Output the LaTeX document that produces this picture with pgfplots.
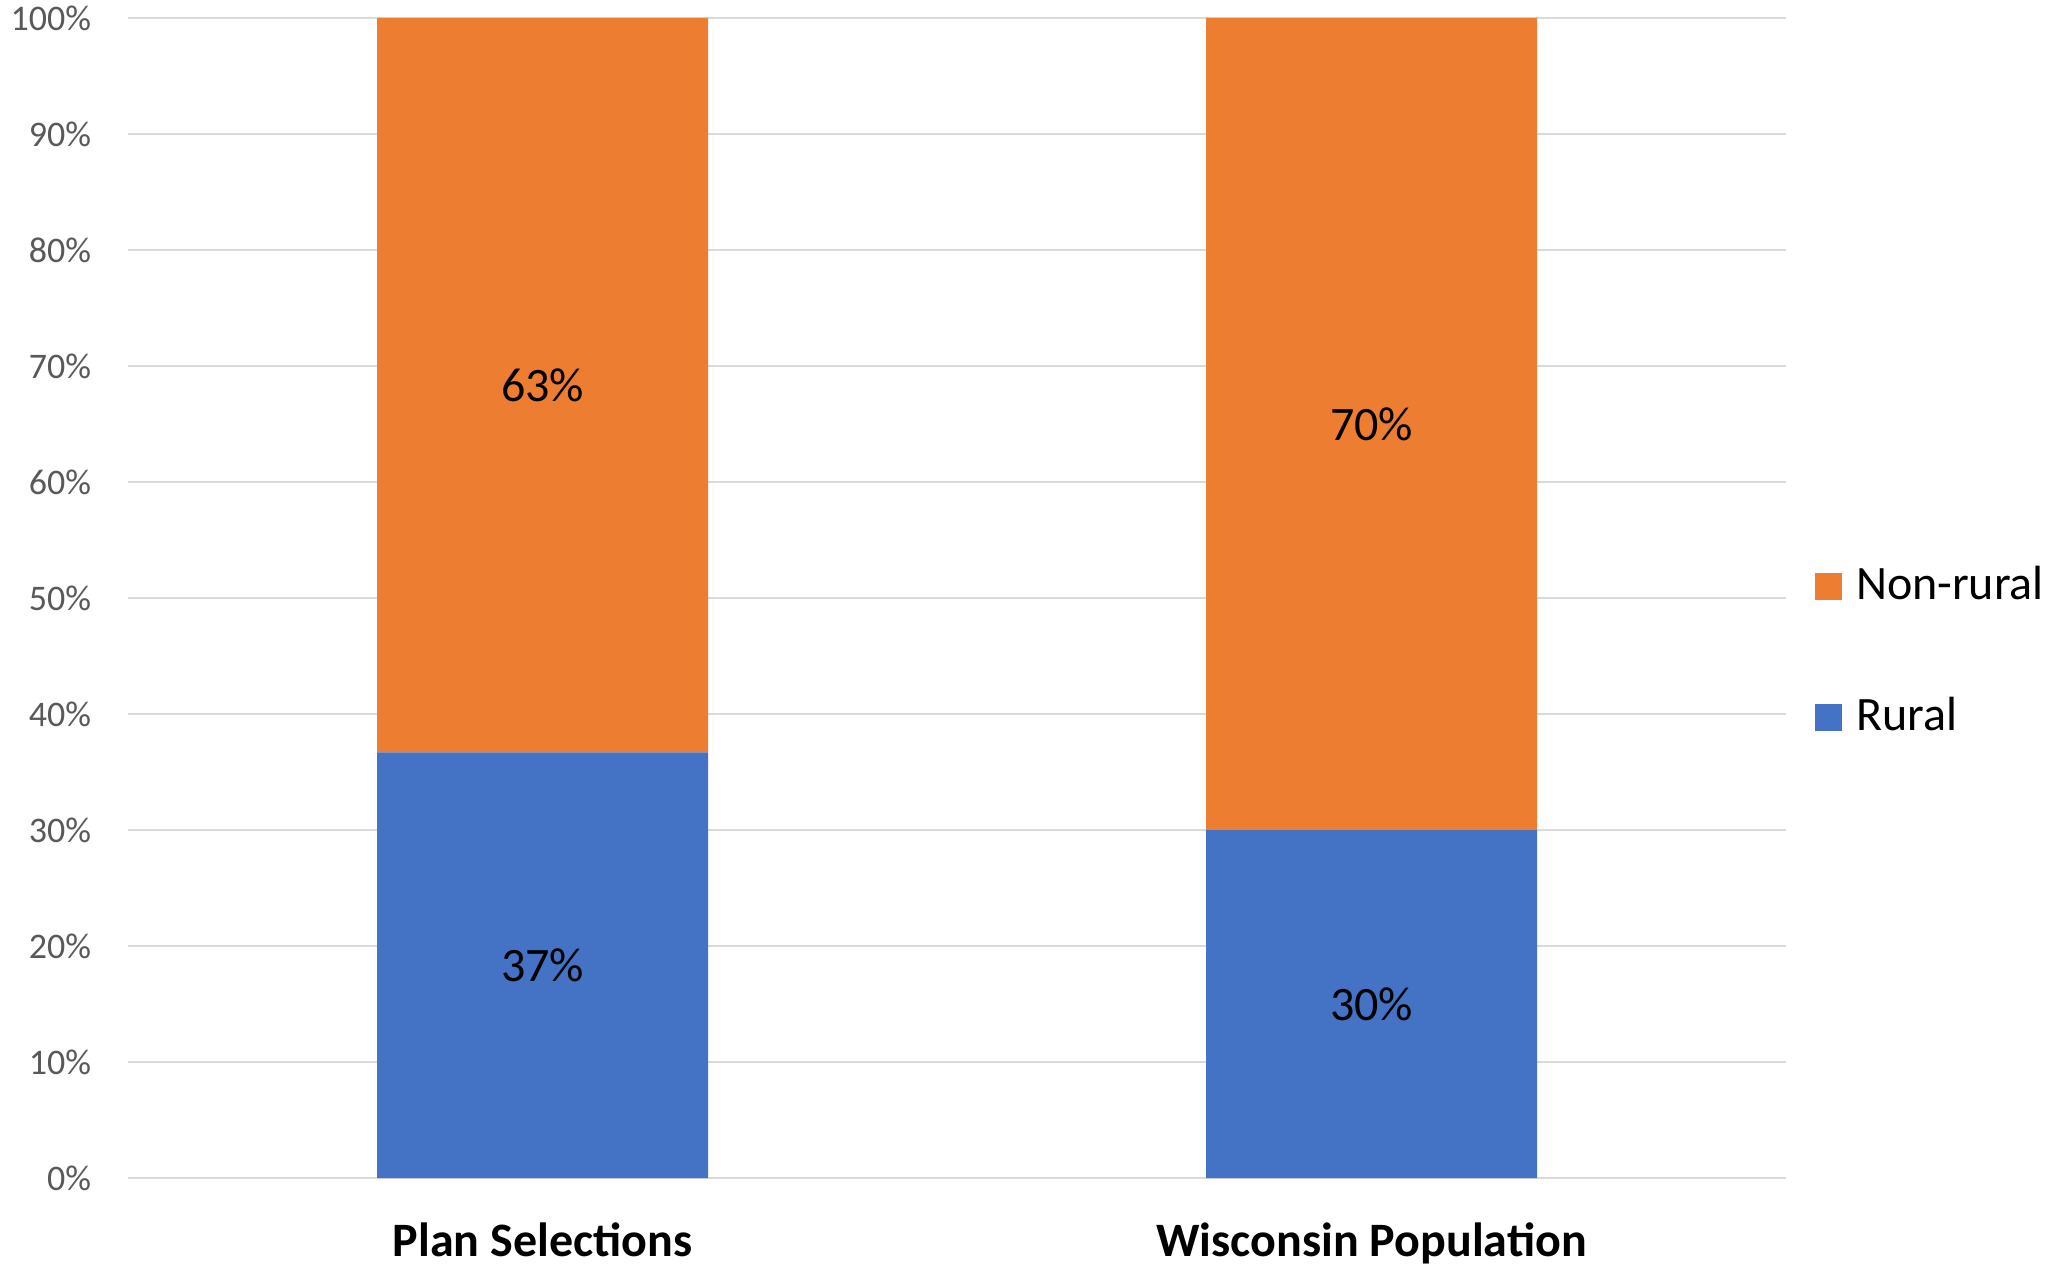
\documentclass[border=0pt]{standalone}
\usepackage{pgfplots}
\pgfplotsset{compat=1.18}
\usepackage{fontspec}
\setmainfont{Carlito}
\definecolor{cOrange}{HTML}{ED7D31}
\definecolor{cBlue}{HTML}{4472C4}
\definecolor{cGrid}{HTML}{D9D9D9}
\definecolor{cTick}{HTML}{595959}
\begin{document}
\begin{tikzpicture}
\useasboundingbox (0,0) rectangle (514.75pt,316.25pt);
\begin{axis}[
  at={(32pt,21.75pt)}, anchor=south west,
  scale only axis, width=414.5pt, height=290pt,
  xmin=-0.5, xmax=1.5, ymin=0, ymax=100,
  ybar stacked, bar width=82.75pt,
  axis line style={draw=none},
  major tick length=0pt, tick style={draw=none},
  ymajorgrids, grid style={cGrid, line width=0.6pt},
  ytick={0,10,...,100},
  yticklabels={0\%,10\%,20\%,30\%,40\%,50\%,60\%,70\%,80\%,90\%,100\%},
  yticklabel style={font=\fontsize{9}{9}\selectfont, text=cTick, inner sep=0pt, xshift=-9pt, anchor=east},
  xtick={0,1},
  xticklabels={Plan Selections, Wisconsin Population},
  xticklabel style={font=\bfseries\fontsize{12}{12}\selectfont, text=black, inner sep=0pt, anchor=base, yshift=-19.5pt},
  legend image code/.code={\fill[#1,draw=none] (0pt,-3.6pt) rectangle (6.75pt,3.15pt);},
  reverse legend,
  legend cell align=left,
  legend style={draw=none, fill=none, inner sep=0pt, outer sep=0pt,
    at={(1,0.3805)}, anchor=south west, xshift=7.25pt,
    font=\fontsize{12}{12}\selectfont, row sep=23pt,
    nodes={inner sep=0pt},
    /tikz/every odd column/.append style={column sep=3.5pt}},
]
\addplot[fill=cBlue, draw=none] coordinates {(0,36.7) (1,30)};
\addlegendentry{Rural}
\addplot[fill=cOrange, draw=none] coordinates {(0,63.3) (1,70)};
\addlegendentry{Non-rural}
\end{axis}
\begin{axis}[
  at={(32pt,21.75pt)}, anchor=south west,
  scale only axis, width=414.5pt, height=290pt,
  xmin=-0.5, xmax=1.5, ymin=0, ymax=100,
  hide axis,
]
\addplot[draw=none, mark=none, nodes near coords, point meta=explicit symbolic,
  nodes near coords style={anchor=center, inner sep=0pt, font=\fontsize{12}{12}\selectfont, text=black}]
  coordinates {(0,18.35) [37\%] (0,68.35) [63\%] (1,15) [30\%] (1,65) [70\%]};
\end{axis}
\end{tikzpicture}
\end{document}
